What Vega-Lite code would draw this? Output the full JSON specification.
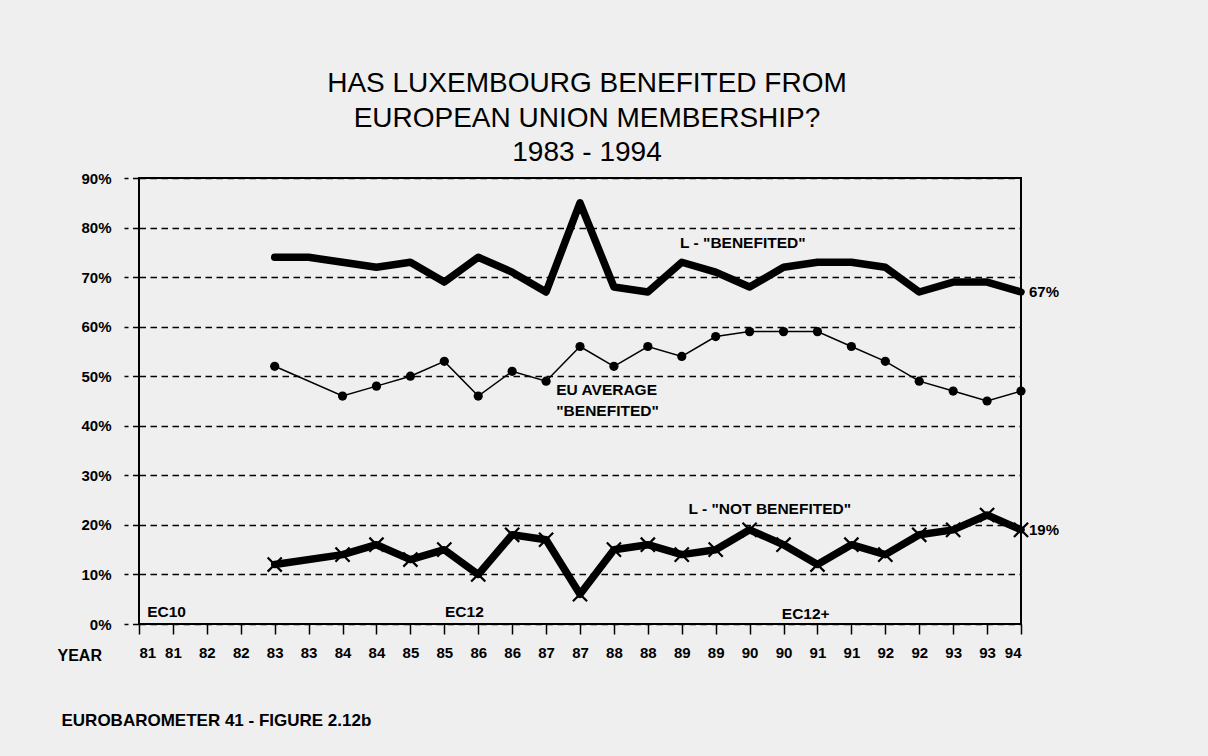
{
  "$schema": "https://vega.github.io/schema/vega-lite/v6.json",
  "width": 882,
  "height": 446,
  "autosize": {"type": "none"},
  "padding": {"left": 139, "top": 178, "right": 187, "bottom": 132},
  "background": "#efefef",
  "title": {
    "text": ["HAS LUXEMBOURG BENEFITED FROM", "EUROPEAN UNION MEMBERSHIP?", "1983 - 1994"],
    "font": "Liberation Sans",
    "fontSize": 28,
    "fontWeight": "normal",
    "lineHeight": 34.5,
    "anchor": "middle",
    "frame": "group",
    "baseline": "alphabetic",
    "offset": -18,
    "dx": 7,
    "color": "black"
  },
  "datasets": {
    "survey": [
      {"wave": 4, "year": "83", "series": "L - BENEFITED", "share": 0.74},
      {"wave": 5, "year": "83", "series": "L - BENEFITED", "share": 0.74},
      {"wave": 6, "year": "84", "series": "L - BENEFITED", "share": 0.73},
      {"wave": 7, "year": "84", "series": "L - BENEFITED", "share": 0.72},
      {"wave": 8, "year": "85", "series": "L - BENEFITED", "share": 0.73},
      {"wave": 9, "year": "85", "series": "L - BENEFITED", "share": 0.69},
      {"wave": 10, "year": "86", "series": "L - BENEFITED", "share": 0.74},
      {"wave": 11, "year": "86", "series": "L - BENEFITED", "share": 0.71},
      {"wave": 12, "year": "87", "series": "L - BENEFITED", "share": 0.67},
      {"wave": 13, "year": "87", "series": "L - BENEFITED", "share": 0.85},
      {"wave": 14, "year": "88", "series": "L - BENEFITED", "share": 0.68},
      {"wave": 15, "year": "88", "series": "L - BENEFITED", "share": 0.67},
      {"wave": 16, "year": "89", "series": "L - BENEFITED", "share": 0.73},
      {"wave": 17, "year": "89", "series": "L - BENEFITED", "share": 0.71},
      {"wave": 18, "year": "90", "series": "L - BENEFITED", "share": 0.68},
      {"wave": 19, "year": "90", "series": "L - BENEFITED", "share": 0.72},
      {"wave": 20, "year": "91", "series": "L - BENEFITED", "share": 0.73},
      {"wave": 21, "year": "91", "series": "L - BENEFITED", "share": 0.73},
      {"wave": 22, "year": "92", "series": "L - BENEFITED", "share": 0.72},
      {"wave": 23, "year": "92", "series": "L - BENEFITED", "share": 0.67},
      {"wave": 24, "year": "93", "series": "L - BENEFITED", "share": 0.69},
      {"wave": 25, "year": "93", "series": "L - BENEFITED", "share": 0.69},
      {"wave": 26, "year": "94", "series": "L - BENEFITED", "share": 0.67},

      {"wave": 4, "year": "83", "series": "EU AVERAGE BENEFITED", "share": 0.52},
      {"wave": 6, "year": "84", "series": "EU AVERAGE BENEFITED", "share": 0.46},
      {"wave": 7, "year": "84", "series": "EU AVERAGE BENEFITED", "share": 0.48},
      {"wave": 8, "year": "85", "series": "EU AVERAGE BENEFITED", "share": 0.50},
      {"wave": 9, "year": "85", "series": "EU AVERAGE BENEFITED", "share": 0.53},
      {"wave": 10, "year": "86", "series": "EU AVERAGE BENEFITED", "share": 0.46},
      {"wave": 11, "year": "86", "series": "EU AVERAGE BENEFITED", "share": 0.51},
      {"wave": 12, "year": "87", "series": "EU AVERAGE BENEFITED", "share": 0.49},
      {"wave": 13, "year": "87", "series": "EU AVERAGE BENEFITED", "share": 0.56},
      {"wave": 14, "year": "88", "series": "EU AVERAGE BENEFITED", "share": 0.52},
      {"wave": 15, "year": "88", "series": "EU AVERAGE BENEFITED", "share": 0.56},
      {"wave": 16, "year": "89", "series": "EU AVERAGE BENEFITED", "share": 0.54},
      {"wave": 17, "year": "89", "series": "EU AVERAGE BENEFITED", "share": 0.58},
      {"wave": 18, "year": "90", "series": "EU AVERAGE BENEFITED", "share": 0.59},
      {"wave": 19, "year": "90", "series": "EU AVERAGE BENEFITED", "share": 0.59},
      {"wave": 20, "year": "91", "series": "EU AVERAGE BENEFITED", "share": 0.59},
      {"wave": 21, "year": "91", "series": "EU AVERAGE BENEFITED", "share": 0.56},
      {"wave": 22, "year": "92", "series": "EU AVERAGE BENEFITED", "share": 0.53},
      {"wave": 23, "year": "92", "series": "EU AVERAGE BENEFITED", "share": 0.49},
      {"wave": 24, "year": "93", "series": "EU AVERAGE BENEFITED", "share": 0.47},
      {"wave": 25, "year": "93", "series": "EU AVERAGE BENEFITED", "share": 0.45},
      {"wave": 26, "year": "94", "series": "EU AVERAGE BENEFITED", "share": 0.47},

      {"wave": 4, "year": "83", "series": "L - NOT BENEFITED", "share": 0.12},
      {"wave": 6, "year": "84", "series": "L - NOT BENEFITED", "share": 0.14},
      {"wave": 7, "year": "84", "series": "L - NOT BENEFITED", "share": 0.16},
      {"wave": 8, "year": "85", "series": "L - NOT BENEFITED", "share": 0.13},
      {"wave": 9, "year": "85", "series": "L - NOT BENEFITED", "share": 0.15},
      {"wave": 10, "year": "86", "series": "L - NOT BENEFITED", "share": 0.10},
      {"wave": 11, "year": "86", "series": "L - NOT BENEFITED", "share": 0.18},
      {"wave": 12, "year": "87", "series": "L - NOT BENEFITED", "share": 0.17},
      {"wave": 13, "year": "87", "series": "L - NOT BENEFITED", "share": 0.06},
      {"wave": 14, "year": "88", "series": "L - NOT BENEFITED", "share": 0.15},
      {"wave": 15, "year": "88", "series": "L - NOT BENEFITED", "share": 0.16},
      {"wave": 16, "year": "89", "series": "L - NOT BENEFITED", "share": 0.14},
      {"wave": 17, "year": "89", "series": "L - NOT BENEFITED", "share": 0.15},
      {"wave": 18, "year": "90", "series": "L - NOT BENEFITED", "share": 0.19},
      {"wave": 19, "year": "90", "series": "L - NOT BENEFITED", "share": 0.16},
      {"wave": 20, "year": "91", "series": "L - NOT BENEFITED", "share": 0.12},
      {"wave": 21, "year": "91", "series": "L - NOT BENEFITED", "share": 0.16},
      {"wave": 22, "year": "92", "series": "L - NOT BENEFITED", "share": 0.14},
      {"wave": 23, "year": "92", "series": "L - NOT BENEFITED", "share": 0.18},
      {"wave": 24, "year": "93", "series": "L - NOT BENEFITED", "share": 0.19},
      {"wave": 25, "year": "93", "series": "L - NOT BENEFITED", "share": 0.22},
      {"wave": 26, "year": "94", "series": "L - NOT BENEFITED", "share": 0.19}
    ],
    "notes": [
      {"wave": 15.95, "share": 0.768, "text": "L - \"BENEFITED\""},
      {"wave": 12.3, "share": 0.472, "text": "EU AVERAGE"},
      {"wave": 12.3, "share": 0.43, "text": "\"BENEFITED\""},
      {"wave": 16.2, "share": 0.233, "text": "L - \"NOT BENEFITED\""},
      {"wave": 0.24, "share": 0.025, "text": "EC10"},
      {"wave": 9.02, "share": 0.025, "text": "EC12"},
      {"wave": 18.95, "share": 0.02, "text": "EC12+"}
    ]
  },
  "encoding": {
    "x": {
      "field": "wave",
      "type": "quantitative",
      "scale": {"domain": [0, 26], "nice": false, "zero": false},
      "axis": {
        "values": [0,1,2,3,4,5,6,7,8,9,10,11,12,13,14,15,16,17,18,19,20,21,22,23,24,25,26],
        "labelExpr": "'' + (81 + floor(datum.value / 2))",
        "grid": false,
        "domain": false,
        "ticks": true,
        "tickSize": 10,
        "tickColor": "black",
        "tickWidth": 1.5,
        "labelFont": "Liberation Sans",
        "labelFontWeight": "bold",
        "labelFontSize": 15,
        "labelColor": "black",
        "labelPadding": 11,
        "labelOverlap": false,
        "title": "YEAR",
        "titleFont": "Liberation Sans",
        "titleFontWeight": "bold",
        "titleFontSize": 16,
        "titleColor": "black",
        "titleX": -82,
        "titleY": 31,
        "titleAlign": "left",
        "titleBaseline": "middle",
        "titleAnchor": "start"
      }
    },
    "y": {
      "field": "share",
      "type": "quantitative",
      "scale": {"domain": [0, 0.9], "nice": false},
      "axis": {
        "values": [0, 0.1, 0.2, 0.3, 0.4, 0.5, 0.6, 0.7, 0.8, 0.9],
        "format": ".0%",
        "grid": true,
        "gridColor": "black",
        "gridDash": [6.5, 4.5],
        "gridWidth": 1.3,
        "gridOpacity": 1,
        "domain": false,
        "tickSize": 15,
        "tickColor": "black",
        "tickDash": [6.5, 4.5],
        "tickWidth": 1.3,
        "labelFont": "Liberation Sans",
        "labelFontWeight": "bold",
        "labelFontSize": 15,
        "labelColor": "black",
        "labelPadding": 13,
        "title": "EUROBAROMETER 41 - FIGURE 2.12b",
        "titleFont": "Liberation Sans",
        "titleFontWeight": "bold",
        "titleFontSize": 17,
        "titleColor": "black",
        "titleAngle": 0,
        "titleX": -78,
        "titleY": 542,
        "titleAlign": "left",
        "titleBaseline": "middle"
      }
    }
  },
  "layer": [
    {
      "data": {"name": "survey"},
      "transform": [{"filter": "datum.series === 'L - BENEFITED'"}],
      "mark": {"type": "line", "color": "black", "strokeWidth": 7.5, "strokeJoin": "round", "strokeCap": "round"}
    },
    {
      "data": {"name": "survey"},
      "transform": [{"filter": "datum.series === 'EU AVERAGE BENEFITED'"}],
      "mark": {"type": "line", "color": "black", "strokeWidth": 1.5, "point": {"filled": true, "color": "black", "size": 85}}
    },
    {
      "data": {"name": "survey"},
      "transform": [{"filter": "datum.series === 'L - NOT BENEFITED'"}],
      "mark": {"type": "line", "color": "black", "strokeWidth": 7.5, "strokeJoin": "round", "strokeCap": "round"}
    },
    {
      "data": {"name": "survey"},
      "transform": [{"filter": "datum.series === 'L - NOT BENEFITED'"}],
      "mark": {"type": "point", "shape": "M-1,-1L1,1M-1,1L1,-1", "size": 200, "filled": false, "stroke": "black", "strokeWidth": 2.2, "opacity": 1}
    },
    {
      "data": {"name": "survey"},
      "transform": [{"filter": "datum.wave === 26 && datum.series !== 'EU AVERAGE BENEFITED'"}],
      "mark": {"type": "text", "align": "left", "baseline": "middle", "dx": 8, "font": "Liberation Sans", "fontWeight": "bold", "fontSize": 15, "color": "black", "clip": false},
      "encoding": {"text": {"field": "share", "type": "quantitative", "format": ".0%"}}
    },
    {
      "data": {"name": "notes"},
      "mark": {"type": "text", "align": "left", "baseline": "middle", "font": "Liberation Sans", "fontWeight": "bold", "fontSize": 15.5, "color": "black"},
      "encoding": {"text": {"field": "text", "type": "nominal"}}
    }
  ],
  "config": {
    "view": {"stroke": "black", "strokeWidth": 2},
    "font": "Liberation Sans"
  }
}
